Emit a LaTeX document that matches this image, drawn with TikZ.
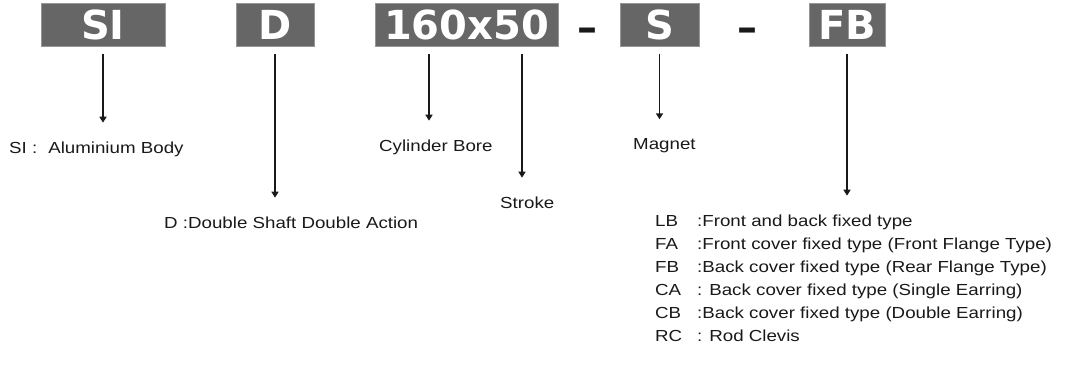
\documentclass[tikz,border=0pt]{standalone}
\usepackage{fontspec}
\setmainfont[FakeStretch=1.17]{Liberation Sans}
\newfontfamily\boxfont{DejaVu Sans}
\usetikzlibrary{arrows.meta}
\definecolor{boxgray}{RGB}{102,102,102}
\definecolor{boxedge}{RGB}{150,150,150}
\definecolor{ink}{RGB}{25,25,25}
\tikzset{
  codebox/.style={fill=boxgray,draw=boxedge,line width=0.8pt,text=white,
    font=\boxfont\bfseries\fontsize{40}{40}\selectfont,
    minimum height=43pt,inner sep=0pt},
  joiner/.style={font=\boxfont\bfseries\fontsize{40}{40}\selectfont,
    text=ink,inner sep=0pt,anchor=base},
  lbl/.style={font=\fontsize{16}{19}\selectfont,text=ink,inner sep=0pt,
    anchor=base west},
  pointer/.style={-{Triangle[width=7pt,length=6pt]},line width=1.5pt,draw=ink,
    shorten <=8pt,shorten >=19pt},
}
\begin{document}
\begin{tikzpicture}[x=1pt,y=-1pt]
        \useasboundingbox (0,0) rectangle (1070,387);
        % order code
        \node[codebox,minimum width=124pt] (si) at (103,24.5) {SI};
        \node[codebox,minimum width=78pt] (dbl) at (275,24.5) {D};
        \node[codebox,minimum width=183pt] (size) at (466.5,24.5) {160x50};
        \node[codebox,minimum width=79pt] (mag) at (659.5,24.5) {S};
        \node[codebox,minimum width=76pt] (mount) at (847,24.5) {FB};
        \node[joiner] (dashA) at (587,41.5) {–};
        \node[joiner] (dashB) at (747,41.5) {–};
        % meanings
        \node[lbl] (siLbl) at (9,153.5) {SI :\hspace{11pt}Aluminium Body};
        \node[lbl] (boreLbl) at (379,151.5) {Cylinder Bore};
        \node[lbl] (magLbl) at (633,149.5) {Magnet};
        \node[lbl] (strokeLbl) at (500,208.5) {Stroke};
        \node[lbl] (dblLbl) at (164,228.5) {D :Double Shaft Double Action};
        \node[lbl] (lb) at (655,226.5) {\makebox[42pt][l]{LB}:Front and back fixed type};
        \node[lbl] (fa) at (655,249.5) {\makebox[42pt][l]{FA}:Front cover fixed type (Front Flange Type)};
        \node[lbl] (fb) at (655,272.5) {\makebox[42pt][l]{FB}:Back cover fixed type (Rear Flange Type)};
        \node[lbl] (ca) at (655,295.5) {\makebox[42pt][l]{CA}: Back cover fixed type (Single Earring)};
        \node[lbl] (cb) at (655,318.5) {\makebox[42pt][l]{CB}:Back cover fixed type (Double Earring)};
        \node[lbl] (rc) at (655,341.5) {\makebox[42pt][l]{RC}: Rod Clevis};
        % pointers
        \draw[pointer] (si.south) -- (si.south |- siLbl.north);
        \draw[pointer] (dbl.south) -- (dbl.south |- dblLbl.north);
        \draw[pointer] ([xshift=-37.5pt]size.south) -- ([xshift=-37.5pt]size.south |- boreLbl.north);
        \draw[pointer] ([xshift=55.5pt]size.south) -- ([xshift=55.5pt]size.south |- strokeLbl.north);
        \draw[pointer] (mag.south) -- (mag.south |- magLbl.north);
        \draw[pointer] (mount.south) -- (mount.south |- lb.north);
\end{tikzpicture}
\end{document}
